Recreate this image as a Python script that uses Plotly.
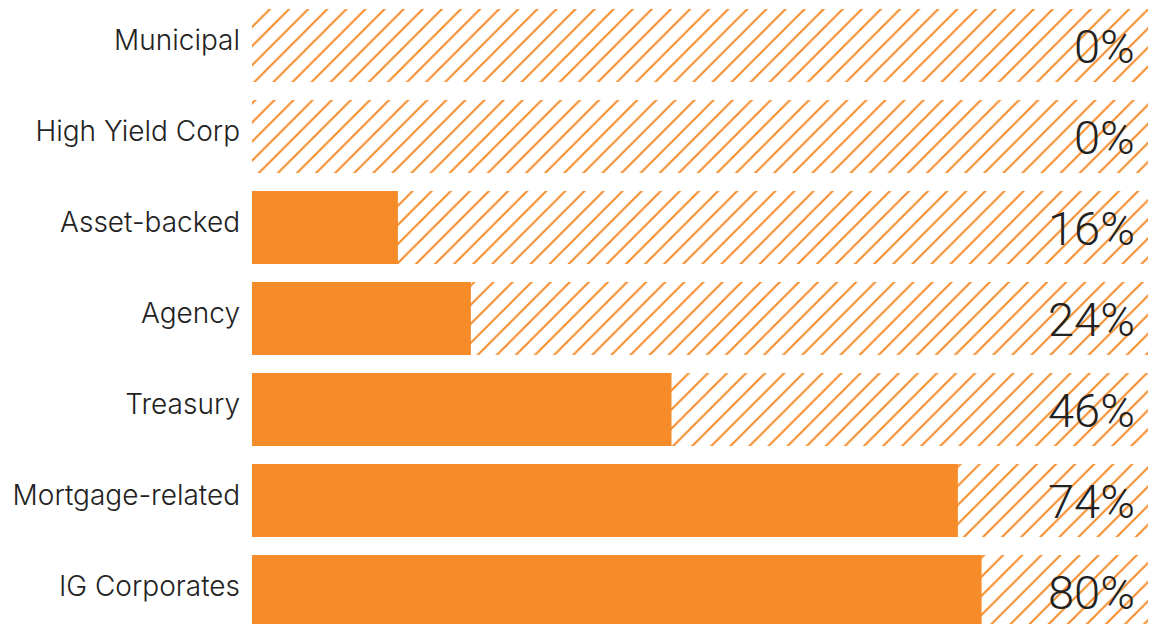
import plotly.graph_objects as go

categories = ["IG Corporates", "Mortgage-related", "Treasury", "Agency",
              "Asset-backed", "High Yield Corp", "Municipal"]
values = [80, 77.4, 46, 24, 16, 0, 0]
labels = ["80%", "74%", "46%", "24%", "16%", "0%", "0%"]
full = [100] * len(categories)

ORANGE = "#F68B29"

fig = go.Figure()
fig.add_trace(go.Bar(
    y=categories, x=full, orientation="h", width=0.8,
    marker=dict(color="white", line=dict(width=0),
                pattern=dict(shape="/", fgcolor=ORANGE, bgcolor="white",
                             fgopacity=1, size=13.5, solidity=0.15)),
    hoverinfo="skip", showlegend=False,
))
fig.add_trace(go.Bar(
    y=categories, x=values, orientation="h", width=0.8,
    marker=dict(color=ORANGE, line=dict(width=0)),
    showlegend=False,
))

for cat, lab in zip(categories, labels):
    fig.add_annotation(
        x=1, xref="paper", y=cat, yref="y", text=lab, showarrow=False,
        xanchor="right", yanchor="middle", xshift=-27, yshift=-1,
        font=dict(family="Roboto", size=47, color="#222222", weight=300),
    )

fig.update_layout(
    width=1156, height=624,
    margin=dict(l=244, r=0, t=0, b=0),
    paper_bgcolor="white", plot_bgcolor="white",
    barmode="overlay", bargap=0.2,
    xaxis=dict(range=[0, 100], visible=False, fixedrange=True),
    yaxis=dict(categoryorder="array", categoryarray=categories,
               range=[-0.445, 6.412], showgrid=False, zeroline=False,
               showline=False, ticks="", ticklabelstandoff=11,
               ticklabelshift=-5,
               tickfont=dict(family="Inter", size=28,
                             color="#222222", weight=300)),
)

fig.write_html("out.html")
